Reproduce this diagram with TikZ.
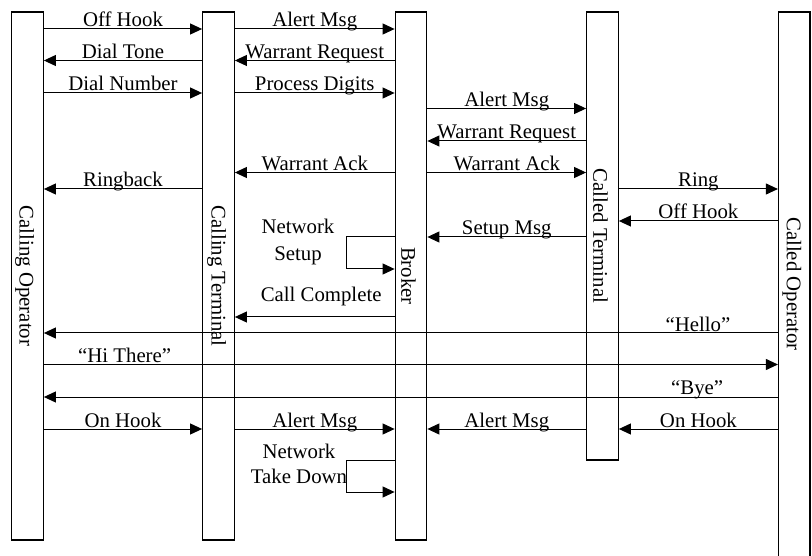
\documentclass[tikz,border=0pt]{standalone}
\usepackage{fontspec}
\setmainfont{Liberation Serif}
\usetikzlibrary{arrows.meta,calc}
\begin{document}
\begin{tikzpicture}[x=1pt,y=-1pt,
  lifeline/.style={draw, line width=1.3pt, minimum width=31.5pt, inner sep=0pt},
  msg/.style={line width=1pt, -{Triangle[length=12pt,width=11pt]}},
  lbl/.style={font=\fontsize{20.8}{25}\selectfont, anchor=base, inner sep=0pt, yshift=2pt},
  txt/.style={font=\fontsize{20.8}{25}\selectfont, anchor=base, inner sep=0pt},
  vlbl/.style={font=\fontsize{20.8}{25}\selectfont, rotate=-90, inner sep=0pt}]
\useasboundingbox (0,0) rectangle (812,556);
\clip (0,0) rectangle (812,556);
% lifelines
\node[lifeline, minimum height=528pt] (co) at (27.5,276) {};
\node[lifeline, minimum height=528pt] (ct) at (218.5,276) {};
\node[lifeline, minimum height=528pt] (br) at (411,276) {};
\node[lifeline, minimum height=448pt] (cdt) at (602.5,236) {};
\node[lifeline, minimum height=548pt] (cdo) at (794.3,286) {};
\node[vlbl] (colbl) at ($(co.center)+(-3,0)$) {Calling Operator};
\node[vlbl] (ctlbl) at ($(ct.center)+(-2,0)$) {Calling Terminal};
\node[vlbl] (brlbl) at ($(br.center)+(-2.5,0)$) {Broker};
\node[vlbl] (cdtlbl) at ($(cdt.center)+(-2,0)$) {Called Terminal};
\node[vlbl] (cdolbl) at ($(cdo.center)+(-2.5,-2)$) {Called Operator};
% rows
\coordinate (r1) at (0,29);
\coordinate (r2) at (0,60.5);
\coordinate (r3) at (0,93);
\coordinate (r4) at (0,108.5);
\coordinate (r5) at (0,141);
\coordinate (r6) at (0,172.5);
\coordinate (r7) at (0,189);
\coordinate (r8) at (0,221);
\coordinate (r9) at (0,237);
\coordinate (r10) at (0,269);
\coordinate (r11) at (0,317);
\coordinate (r12) at (0,333);
\coordinate (r13) at (0,364.5);
\coordinate (r14) at (0,397);
\coordinate (r15) at (0,429);
\coordinate (r16) at (0,460);
\coordinate (r17) at (0,492);
% messages
\draw[msg] (co.east |- r1) -- node[lbl] {Off Hook} (ct.west |- r1);
\draw[msg] (ct.west |- r2) -- node[lbl] {Dial Tone} (co.east |- r2);
\draw[msg] (co.east |- r3) -- node[lbl] {Dial Number} (ct.west |- r3);
\draw[msg] (ct.east |- r1) -- node[lbl] {Alert Msg} (br.west |- r1);
\draw[msg] (br.west |- r2) -- node[lbl] {Warrant Request} (ct.east |- r2);
\draw[msg] (ct.east |- r3) -- node[lbl] {Process Digits} (br.west |- r3);
\draw[msg] (br.east |- r4) -- node[lbl] {Alert Msg} (cdt.west |- r4);
\draw[msg] (cdt.west |- r5) -- node[lbl] {Warrant Request} (br.east |- r5);
\draw[msg] (br.west |- r6) -- node[lbl] {Warrant Ack} (ct.east |- r6);
\draw[msg] (br.east |- r6) -- node[lbl] {Warrant Ack} (cdt.west |- r6);
\draw[msg] (ct.west |- r7) -- node[lbl] {Ringback} (co.east |- r7);
\draw[msg] (cdt.east |- r7) -- node[lbl] {Ring} (cdo.west |- r7);
\draw[msg] (cdo.west |- r8) -- node[lbl] {Off Hook} (cdt.east |- r8);
\draw[msg] (cdt.west |- r9) -- node[lbl] {Setup Msg} (br.east |- r9);
\draw[msg] (br.west |- r9) -- ++(-48,0) |- (br.west |- r10);
\node[txt] (ns1) at (298,234) {Network};
\node[txt] (ns2) at (298,261) {Setup};
\draw[msg] (br.west |- r11) -- node[lbl, pos=0.46, yshift=13pt] {Call Complete} (ct.east |- r11);
\draw[msg] (cdo.west |- r12) -- node[lbl, pos=0.109] {“Hello”} (co.east |- r12);
\draw[msg] (co.east |- r13) -- node[lbl, pos=0.110] {“Hi There”} (cdo.west |- r13);
\draw[msg] (cdo.west |- r14) -- node[lbl, pos=0.110] {“Bye”} (co.east |- r14);
\draw[msg] (co.east |- r15) -- node[lbl] {On Hook} (ct.west |- r15);
\draw[msg] (ct.east |- r15) -- node[lbl] {Alert Msg} (br.west |- r15);
\draw[msg] (cdt.west |- r15) -- node[lbl] {Alert Msg} (br.east |- r15);
\draw[msg] (cdo.west |- r15) -- node[lbl] {On Hook} (cdt.east |- r15);
\draw[msg] (br.west |- r16) -- ++(-48,0) |- (br.west |- r17);
\node[txt] (nt1) at (299,458) {Network};
\node[txt] (nt2) at (299,483) {Take Down};
\end{tikzpicture}
\end{document}
